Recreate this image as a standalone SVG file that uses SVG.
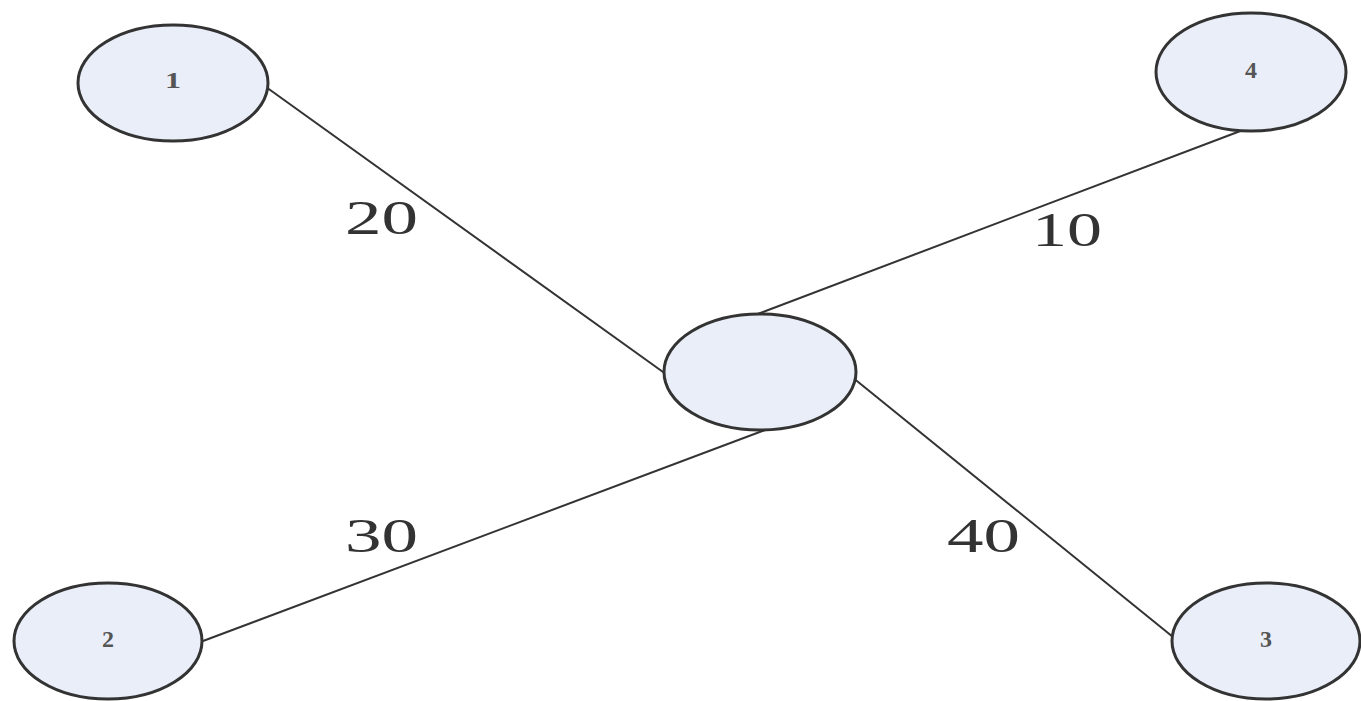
<svg xmlns="http://www.w3.org/2000/svg" width="1361" height="701" viewBox="0 0 1361 701">
<style>
.node{fill:#e9eef8;stroke:#333;stroke-width:3}
.edge{stroke:#333;stroke-width:2;fill:none}
.nl{font-family:"Liberation Serif",serif;font-size:24px;font-weight:bold;fill:#555;text-anchor:middle;dominant-baseline:central}
.el{font-family:"Liberation Serif",serif;font-size:48px;fill:#333}
</style>
<rect width="1361" height="701" fill="#fff"/>
<g id="connectors">
<line class="edge" x1="266" y1="87" x2="670" y2="377"/>
<line class="edge" x1="1243" y1="130" x2="755" y2="315"/>
<line class="edge" x1="765" y1="430" x2="203" y2="641"/>
<line class="edge" x1="852" y1="377" x2="1173" y2="637"/>
<text class="el" x="345" y="234" textLength="73" lengthAdjust="spacingAndGlyphs">20</text>
<text class="el" x="1032" y="246" textLength="70" lengthAdjust="spacingAndGlyphs">10</text>
<text class="el" x="345" y="552" textLength="73" lengthAdjust="spacingAndGlyphs">30</text>
<text class="el" x="947" y="552" textLength="73" lengthAdjust="spacingAndGlyphs">40</text>
</g>
<g id="n1"><ellipse class="node" cx="173" cy="83" rx="95" ry="58"/><text class="nl" x="173" y="80" textLength="16" lengthAdjust="spacingAndGlyphs">1</text></g>
<g id="n4"><ellipse class="node" cx="1251" cy="72" rx="95" ry="59"/><text class="nl" x="1251" y="70">4</text></g>
<g id="center"><ellipse class="node" cx="760" cy="372" rx="96" ry="58"/></g>
<g id="n2"><ellipse class="node" cx="108" cy="641" rx="94" ry="58"/><text class="nl" x="108" y="639">2</text></g>
<g id="n3"><ellipse class="node" cx="1266" cy="641" rx="94" ry="58"/><text class="nl" x="1266" y="639">3</text></g>
</svg>
